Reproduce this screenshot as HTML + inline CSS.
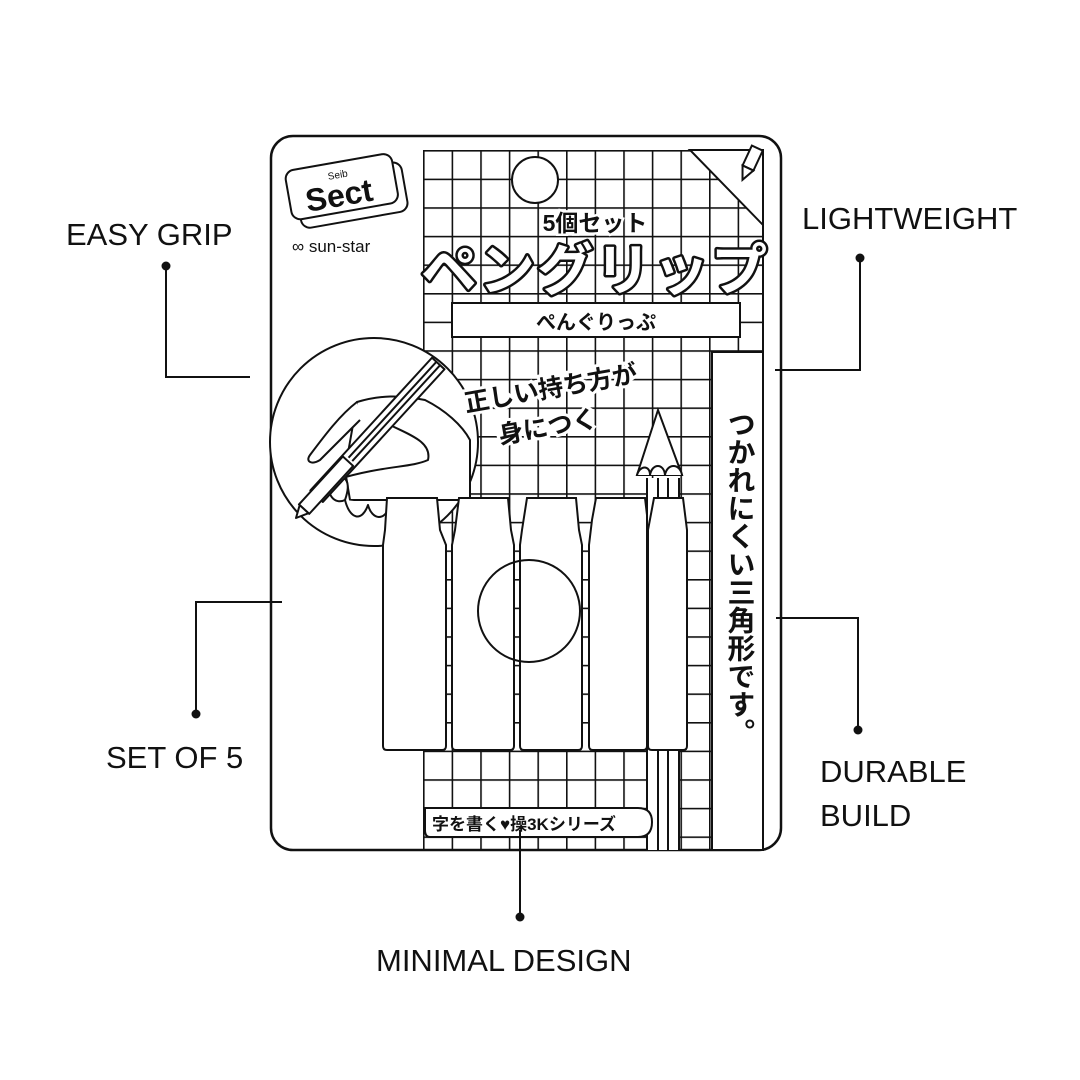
<!DOCTYPE html>
<html><head><meta charset="utf-8"><style>
html,body{margin:0;padding:0;background:#fff;width:1080px;height:1080px;overflow:hidden}
svg{display:block}
.lbl{font-family:"Liberation Sans",sans-serif;font-size:31px;fill:#111}
.jp{font-family:"Liberation Sans","Noto Sans CJK JP",sans-serif;font-weight:bold;fill:#111}
</style></head><body>
<svg width="1080" height="1080" viewBox="0 0 1080 1080" xmlns="http://www.w3.org/2000/svg">
<defs>
<pattern id="g" x="423" y="150" width="28.6" height="28.6" patternUnits="userSpaceOnUse">
<path d="M0 0V28.6M0 0H28.6" stroke="#111" stroke-width="3.2" fill="none"/>
</pattern>
</defs>
<rect x="271" y="136" width="510" height="714" rx="22" fill="#fff" stroke="#111" stroke-width="2.5"/>
<rect x="423" y="150" width="340" height="700" fill="url(#g)"/>
<line x1="763" y1="150" x2="763" y2="850" stroke="#111" stroke-width="2"/>
<polygon points="690,150 763,150 763,225" fill="#fff" stroke="#111" stroke-width="2"/>
<g transform="translate(748,168) rotate(25)" fill="#fff" stroke="#111" stroke-width="2">
<rect x="-6" y="-22" width="12" height="22"/><polygon points="-6,0 6,0 0,13"/></g>
<circle cx="535" cy="180" r="23" fill="#fff" stroke="#111" stroke-width="2"/>
<text x="595" y="231" text-anchor="middle" class="jp" font-size="23" style="paint-order:stroke" stroke="#fff" stroke-width="5">5個セット</text>
<text x="595" y="290" text-anchor="middle" font-family="Liberation Sans,Noto Sans CJK JP,sans-serif" font-weight="bold" font-size="56" fill="#fff" stroke="#111" stroke-width="5" letter-spacing="2" style="paint-order:stroke" stroke-linejoin="round">ペングリップ</text>
<rect x="452" y="303" width="288" height="34" fill="#fff" stroke="#111" stroke-width="2"/>
<text x="596" y="329" text-anchor="middle" class="jp" font-size="20" font-weight="normal">ぺんぐりっぷ</text>
<rect x="712" y="352" width="51" height="498" fill="#fff" stroke="#111" stroke-width="2"/>
<text x="740" y="410" class="jp" font-size="28" style="writing-mode:vertical-rl">つかれにくい三角形です。</text>
<circle cx="374" cy="442" r="104" fill="#fff" stroke="#111" stroke-width="2"/>
<g fill="#fff" stroke="#111" stroke-width="2" stroke-linejoin="round">
<path d="M357,402 C380,395 400,395 425,400 C445,410 462,425 470,440 L470,500 L350,500 L345,470 Z"/>
<path d="M357,402 C340,415 325,435 310,455 C305,462 312,465 320,460 L360,420"/>
<path d="M390,425 C410,435 432,442 428,460 C410,468 385,465 335,480"/>
<path d="M330,478 C345,473 352,480 345,500 C335,505 325,495 330,478 Z"/>
<path d="M345,500 C350,520 362,522 368,505 C372,520 385,522 390,505"/>
<g transform="translate(296,518) rotate(-47.5)">
<rect x="30" y="-8" width="180" height="17"/>
<line x1="80" y1="-2" x2="210" y2="-2"/><line x1="80" y1="3" x2="210" y2="3"/>
<rect x="12" y="-7" width="65" height="14"/><polygon points="12,-6 12,6 0,0"/>
</g>
</g>
<text x="466" y="412" class="jp" font-size="25" transform="rotate(-10 466 412)" style="paint-order:stroke" stroke="#fff" stroke-width="6">正しい持ち方が</text>
<text x="500" y="444" class="jp" font-size="25" transform="rotate(-10 500 444)" style="paint-order:stroke" stroke="#fff" stroke-width="6">身につく</text>
<g fill="#fff" stroke="#111" stroke-width="2">
<polygon points="658,410 637,475 682,475"/>
<rect x="647" y="478" width="32" height="372" stroke="none"/>
<line x1="647" y1="478" x2="647" y2="850"/><line x1="658" y1="478" x2="658" y2="850"/><line x1="668" y1="478" x2="668" y2="850"/><line x1="679" y1="478" x2="679" y2="850"/>
<path d="M637,475 C640,465 650,465 650,475 C652,463 664,463 665,475 C667,463 680,463 682,475"/>
</g>
<g fill="#fff" stroke="#111" stroke-width="2">
<path d="M387,498 H437 L440,530 L446,545 V746 Q446,750 442,750 H387 Q383,750 383,746 V545 L385,530 Z"/>
<path d="M459,498 H508 L511,530 L514,545 V746 Q514,750 510,750 H456 Q452,750 452,746 V545 L455,530 Z"/>
<path d="M527,498 H576 L579,530 L582,545 V746 Q582,750 578,750 H524 Q520,750 520,746 V545 L522,530 Z"/>
<path d="M596,498 H645 L647,515 V746 Q647,750 643,750 H593 Q589,750 589,746 V545 L592,520 Z"/>
<path d="M654,498 H683 L687,530 V746 Q687,750 683,750 H652 Q648,750 648,746 V530 Z"/>
</g>
<circle cx="529" cy="611" r="51" fill="none" stroke="#111" stroke-width="2"/>
<path d="M425,808 H638 Q652,808 652,822 Q652,837 638,837 H430 Q425,837 425,830 Z" fill="#fff" stroke="#111" stroke-width="2"/>
<text x="432" y="830" class="jp" font-size="17" font-weight="normal">字を書く♥操3Kシリーズ</text>
<g transform="rotate(-10 340 188)">
<rect x="296" y="172" width="108" height="50" rx="9" fill="#fff" stroke="#111" stroke-width="2"/>
<rect x="288" y="162" width="108" height="50" rx="9" fill="#fff" stroke="#111" stroke-width="2"/>
<text x="304" y="206" font-family="Liberation Sans,sans-serif" font-weight="bold" font-size="32" fill="#111">Sect</text>
<text x="330" y="178" font-family="Liberation Sans,sans-serif" font-size="10" fill="#111">Seib</text>
</g>
<text x="292" y="252" font-family="Liberation Sans,sans-serif" font-size="17" fill="#111">∞ sun-star</text>
<g stroke="#111" stroke-width="2" fill="none">
<polyline points="166,266 166,377 250,377"/>
<polyline points="860,258 860,370 775,370"/>
<polyline points="196,714 196,602 282,602"/>
<polyline points="858,730 858,618 776,618"/>
<polyline points="520,917 520,830"/>
</g>
<g fill="#111">
<circle cx="166" cy="266" r="4.5"/><circle cx="860" cy="258" r="4.5"/><circle cx="196" cy="714" r="4.5"/><circle cx="858" cy="730" r="4.5"/><circle cx="520" cy="917" r="4.5"/>
</g>
<text x="66" y="245" class="lbl">EASY GRIP</text>
<text x="802" y="229" class="lbl">LIGHTWEIGHT</text>
<text x="106" y="768" class="lbl">SET OF 5</text>
<text x="820" y="782" class="lbl">DURABLE</text>
<text x="820" y="826" class="lbl">BUILD</text>
<text x="376" y="971" class="lbl">MINIMAL DESIGN</text>
</svg>
</body></html>
